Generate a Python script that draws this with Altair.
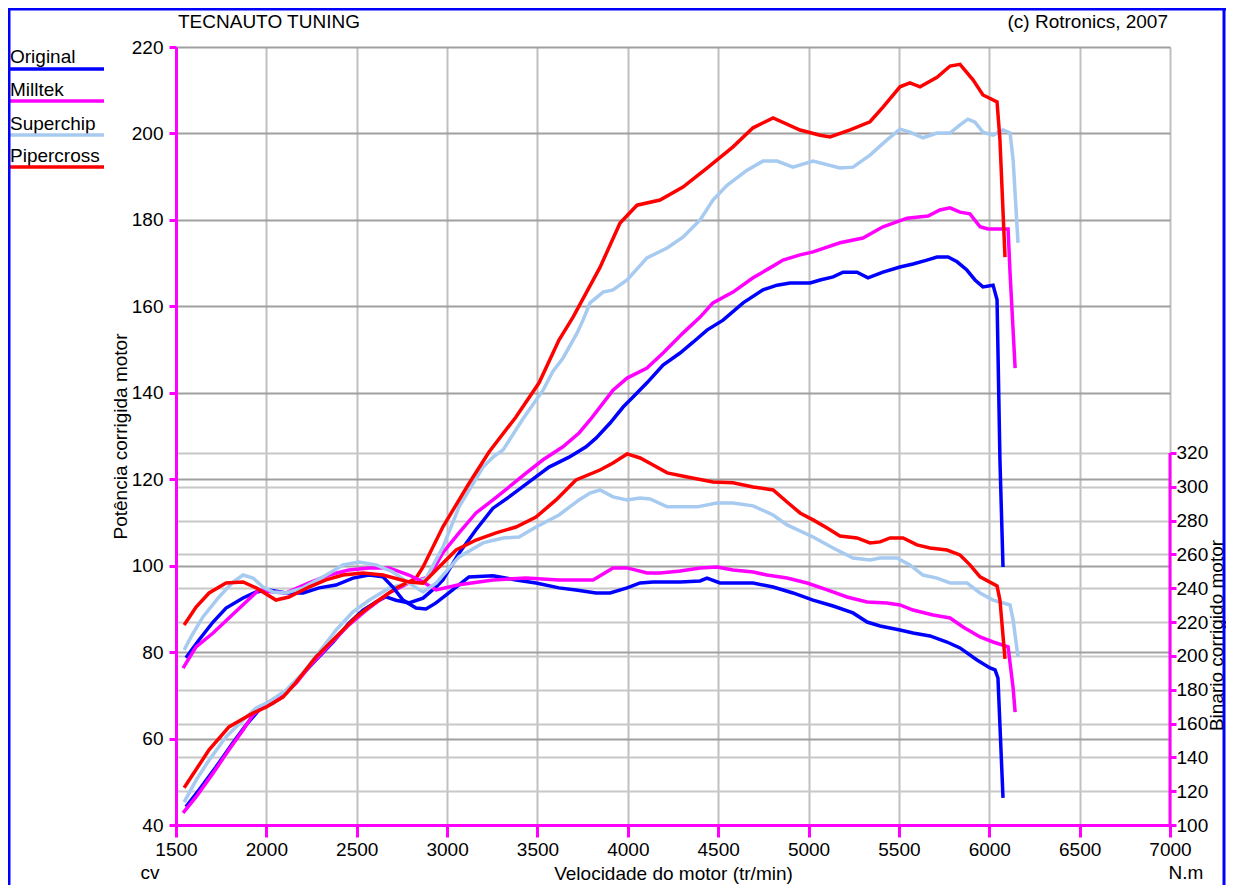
import altair as alt
import pandas as pd

# ---------------- data ----------------
SERIES = ["Original", "Milltek", "Superchip", "Pipercross"]
COLORS = ["#0000ff", "#ff00ff", "#a6caf0", "#ff0000"]

ORIG_P_RPM = [1555, 1627, 1721, 1815, 1887, 1959, 2037, 2109, 2181, 2275, 2369, 2457, 2535, 2607, 2662, 2717, 2789, 2867, 2939, 2977, 3066, 3160, 3254, 3343, 3454, 3564, 3675, 3769, 3824, 3902, 3974, 4029, 4106, 4195, 4289, 4361, 4438, 4527, 4638, 4748, 4826, 4898, 5009, 5064, 5136, 5191, 5268, 5329, 5412, 5506, 5578, 5655, 5711, 5772, 5822, 5876, 5921, 5965, 6021, 6043, 6059, 6076]
ORIG_P_CV = [44.2, 48.1, 53.4, 59.0, 63.1, 66.6, 68.2, 70.5, 74.0, 78.2, 82.3, 86.7, 89.7, 91.6, 92.8, 92.0, 91.4, 92.5, 95.1, 96.7, 102.9, 108.3, 113.3, 115.9, 119.4, 122.8, 125.1, 127.5, 129.5, 133.0, 136.7, 139.0, 142.3, 146.4, 149.2, 151.7, 154.5, 156.8, 160.8, 163.8, 164.9, 165.4, 165.4, 166.1, 166.8, 167.9, 167.9, 166.6, 167.9, 169.1, 169.8, 170.7, 171.4, 171.4, 170.3, 168.4, 166.1, 164.5, 164.9, 161.5, 124.5, 99.7]
ORIG_T_RPM = [1555, 1627, 1705, 1777, 1871, 1943, 2015, 2109, 2203, 2292, 2385, 2479, 2568, 2645, 2700, 2756, 2828, 2883, 2939, 3050, 3121, 3254, 3381, 3492, 3619, 3713, 3824, 3902, 3996, 4068, 4140, 4290, 4400, 4438, 4510, 4693, 4804, 4914, 5025, 5136, 5246, 5324, 5396, 5506, 5578, 5672, 5766, 5838, 5932, 6004, 6032, 6048, 6076]
ORIG_T_NM = [198.8, 209.4, 220.0, 228.3, 234.2, 237.8, 239.0, 237.2, 237.2, 240.2, 241.9, 246.0, 247.8, 246.7, 240.7, 233.0, 228.3, 227.7, 231.3, 240.7, 246.7, 247.3, 244.9, 243.1, 240.2, 239.0, 237.2, 237.2, 240.2, 243.1, 243.7, 243.7, 244.3, 246.0, 243.1, 243.1, 240.7, 237.2, 233.0, 229.5, 225.4, 220.0, 217.7, 215.3, 213.5, 211.8, 208.2, 204.7, 197.6, 192.9, 191.7, 186.9, 116.0]

MILL_P_RPM = [1539, 1611, 1705, 1793, 1871, 1926, 2015, 2092, 2164, 2236, 2347, 2457, 2568, 2679, 2789, 2900, 2977, 3066, 3160, 3254, 3343, 3437, 3531, 3641, 3730, 3791, 3863, 3918, 3996, 4106, 4195, 4305, 4400, 4471, 4582, 4693, 4787, 4859, 4953, 5025, 5174, 5301, 5412, 5545, 5661, 5727, 5783, 5838, 5893, 5949, 5993, 6104, 6115, 6143]
MILL_P_CV = [42.8, 46.5, 52.0, 57.4, 62.0, 65.5, 68.5, 70.0, 72.8, 76.6, 81.6, 86.3, 90.2, 93.7, 96.0, 97.4, 103.0, 107.6, 112.2, 115.2, 118.2, 121.4, 124.5, 127.5, 130.7, 133.7, 137.6, 140.6, 143.4, 145.7, 149.2, 153.8, 157.5, 160.8, 163.3, 166.6, 168.9, 170.7, 171.9, 172.6, 174.7, 175.8, 178.4, 180.4, 180.9, 182.3, 182.8, 181.8, 181.4, 178.4, 177.9, 177.9, 167.7, 145.7]
MILL_T_RPM = [1539, 1611, 1705, 1793, 1887, 1959, 2037, 2109, 2236, 2347, 2457, 2568, 2679, 2789, 2867, 2939, 3066, 3254, 3437, 3619, 3730, 3808, 3918, 3996, 4107, 4179, 4290, 4400, 4493, 4582, 4693, 4770, 4881, 4992, 5103, 5213, 5324, 5434, 5506, 5578, 5689, 5783, 5855, 5949, 6021, 6104, 6132, 6143]
MILL_T_NM = [192.8, 205.3, 213.5, 222.4, 231.9, 239.0, 237.8, 237.2, 243.1, 247.8, 250.8, 252.0, 252.0, 247.8, 243.7, 239.0, 242.0, 244.9, 246.0, 244.9, 244.9, 244.9, 252.0, 252.0, 249.0, 249.0, 250.2, 252.0, 252.6, 250.8, 249.6, 247.8, 246.0, 243.1, 239.0, 234.8, 231.9, 231.3, 230.1, 227.1, 224.2, 222.4, 217.1, 211.2, 208.2, 205.3, 181.0, 166.8]

SUPER_P_RPM = [1545, 1611, 1683, 1777, 1871, 1943, 2015, 2109, 2203, 2292, 2385, 2479, 2568, 2679, 2789, 2883, 2977, 3066, 3199, 3254, 3310, 3420, 3531, 3586, 3641, 3719, 3752, 3791, 3863, 3918, 3996, 4106, 4217, 4305, 4400, 4471, 4549, 4660, 4748, 4826, 4914, 5025, 5174, 5246, 5340, 5434, 5506, 5561, 5633, 5711, 5783, 5838, 5882, 5921, 5965, 6021, 6076, 6115, 6132, 6159]
SUPER_P_CV = [45.3, 50.4, 55.0, 60.4, 64.3, 67.1, 68.5, 71.2, 75.2, 80.0, 85.1, 89.3, 92.0, 94.8, 96.0, 97.0, 104.3, 113.6, 122.8, 125.1, 126.8, 134.0, 140.6, 145.0, 148.0, 153.8, 156.8, 160.8, 163.3, 163.8, 166.1, 171.2, 173.5, 176.0, 180.0, 184.6, 188.0, 191.5, 193.6, 193.6, 192.2, 193.6, 192.0, 192.2, 195.0, 198.5, 201.0, 200.3, 199.0, 200.1, 200.1, 202.0, 203.3, 202.6, 200.3, 199.6, 200.8, 200.1, 193.9, 174.7]
SUPER_T_RPM = [1545, 1583, 1649, 1738, 1815, 1871, 1926, 1981, 2037, 2109, 2203, 2313, 2424, 2513, 2607, 2700, 2789, 2867, 2939, 3066, 3199, 3310, 3398, 3492, 3619, 3730, 3791, 3846, 3918, 3996, 4068, 4123, 4218, 4384, 4493, 4582, 4693, 4804, 4881, 5025, 5136, 5246, 5340, 5396, 5489, 5561, 5633, 5711, 5783, 5876, 5949, 6021, 6115, 6132, 6159]
SUPER_T_NM = [203.5, 211.2, 223.0, 234.8, 243.7, 247.8, 246.0, 240.7, 237.8, 237.2, 240.2, 246.7, 253.8, 255.5, 253.8, 249.6, 243.0, 237.8, 243.0, 258.5, 266.8, 269.7, 270.3, 276.2, 283.3, 292.2, 296.3, 298.1, 294.0, 292.2, 293.4, 292.8, 288.1, 288.1, 290.4, 290.4, 288.7, 283.3, 277.4, 270.3, 263.8, 257.9, 256.7, 257.9, 257.9, 253.8, 247.8, 246.0, 243.1, 243.1, 237.2, 233.0, 230.1, 221.2, 199.4]

PIPE_P_RPM = [1545, 1683, 1793, 1926, 2000, 2092, 2164, 2275, 2385, 2496, 2607, 2717, 2828, 2867, 2977, 3121, 3232, 3381, 3509, 3619, 3697, 3846, 3957, 4051, 4178, 4305, 4438, 4582, 4693, 4804, 4953, 5064, 5119, 5230, 5340, 5412, 5506, 5561, 5617, 5711, 5783, 5838, 5910, 5965, 6043, 6059, 6087]
PIPE_P_CV = [48.6, 57.4, 62.7, 65.9, 67.3, 69.6, 73.0, 78.9, 83.5, 88.1, 91.6, 94.8, 97.1, 99.7, 109.0, 119.0, 126.3, 134.4, 142.3, 152.2, 157.5, 169.0, 179.3, 183.4, 184.6, 187.6, 192.0, 196.9, 201.3, 203.6, 200.8, 199.6, 199.2, 200.8, 202.7, 206.1, 210.8, 211.7, 210.8, 213.0, 215.6, 216.0, 212.4, 208.9, 207.3, 198.5, 171.4]
PIPE_T_RPM = [1545, 1611, 1683, 1777, 1871, 1943, 2053, 2125, 2236, 2330, 2424, 2535, 2645, 2789, 2867, 2956, 3050, 3160, 3271, 3381, 3492, 3603, 3713, 3846, 3918, 3996, 4068, 4140, 4218, 4329, 4471, 4582, 4693, 4804, 4881, 4953, 5025, 5103, 5174, 5268, 5340, 5396, 5451, 5523, 5600, 5672, 5766, 5838, 5893, 5949, 6043, 6059, 6087]
PIPE_T_NM = [218.3, 228.9, 237.2, 243.1, 243.7, 240.2, 233.0, 234.8, 240.7, 244.9, 247.8, 249.0, 247.8, 243.7, 243.0, 252.6, 262.6, 268.5, 272.7, 276.2, 282.1, 292.2, 304.0, 309.9, 314.0, 319.4, 317.0, 312.9, 308.2, 305.8, 302.8, 302.3, 299.9, 298.1, 291.0, 284.5, 280.4, 275.6, 270.9, 269.7, 266.8, 267.4, 269.7, 269.7, 265.6, 263.8, 262.6, 259.7, 253.8, 246.7, 241.3, 233.1, 198.2]

X_TICKS = list(range(1500, 7001, 500))
P_TICKS = list(range(40, 221, 20))
T_TICKS = list(range(100, 321, 20))

TITLE_LEFT = "TECNAUTO TUNING"
TITLE_RIGHT = "(c) Rotronics, 2007"
X_TITLE = "Velocidade do motor (tr/min)"
P_TITLE = "Potência corrigida  motor"
T_TITLE = "Binario corrigido motor"
P_UNIT = "cv"
T_UNIT = "N.m"

# ---------------- layout ----------------
W, H = 994, 778
FONT = "Liberation Sans"
FS = 19
MAG = "#ff00ff"
PAD_R = 56
LW = 3.5

XS = alt.Scale(domain=[1500, 7000], nice=False, zero=False)
YP = alt.Scale(domain=[40, 220], nice=False, zero=False)
YT = alt.Scale(domain=[100, 560], nice=False, zero=False)

common = dict(labelFont=FONT, labelFontSize=FS, labelColor="black", labelFlush=False,
              titleFont=FONT, titleFontSize=FS, titleFontWeight="normal", titleColor="black")

x_axis = alt.Axis(values=X_TICKS, title=X_TITLE, format="d",
                  domainColor=MAG, domainWidth=3, tickColor=MAG, tickWidth=3, tickSize=12,
                  labelPadding=3, grid=True, gridColor="#c0c0c0", gridWidth=2,
                  titleX=W / 2, titleY=48, titleBaseline="middle", titleAlign="center", **common)
p_axis = alt.Axis(values=P_TICKS, title=P_TITLE, orient="left", format="d",
                  domainColor=MAG, domainWidth=3, tickColor=MAG, tickWidth=3, tickSize=7,
                  labelPadding=6, grid=True, gridColor="#a0a0a0", gridWidth=2,
                  titleAngle=270, titleX=-56, titleY=H / 2, titleBaseline="middle", titleAlign="center", **common)
t_axis = alt.Axis(values=T_TICKS, title=T_TITLE, orient="right", format="d",
                  domain=False, tickColor=MAG, tickWidth=3, tickSize=6,
                  labelPadding=0, grid=True, gridColor="#c8c8c8", gridWidth=2,
                  titleAngle=270, titleX=46, titleY=588, titleBaseline="middle", titleAlign="center", **common)

power_sets = [(ORIG_P_RPM, ORIG_P_CV), (MILL_P_RPM, MILL_P_CV), (SUPER_P_RPM, SUPER_P_CV), (PIPE_P_RPM, PIPE_P_CV)]
torque_sets = [(ORIG_T_RPM, ORIG_T_NM), (MILL_T_RPM, MILL_T_NM), (SUPER_T_RPM, SUPER_T_NM), (PIPE_T_RPM, PIPE_T_NM)]

power_layers = []
for (r, v), c in zip(power_sets, COLORS):
    d = pd.DataFrame({"rpm": r, "v": v})
    power_layers.append(alt.Chart(d).mark_line(color=c, strokeWidth=LW).encode(
        x=alt.X("rpm:Q", scale=XS, axis=x_axis),
        y=alt.Y("v:Q", scale=YP, axis=p_axis)))

torque_layers = []
for (r, v), c in zip(torque_sets, COLORS):
    d = pd.DataFrame({"rpm": r, "v": v})
    torque_layers.append(alt.Chart(d).mark_line(color=c, strokeWidth=LW).encode(
        x=alt.X("rpm:Q", scale=XS, axis=x_axis),
        y=alt.Y("v:Q", scale=YT, axis=t_axis)))

# right axis line only along its labelled part
rdom = pd.DataFrame({"rpm": [X_TICKS[-1]], "v": [T_TICKS[0]], "v2": [T_TICKS[-1]]})
torque_layers.append(alt.Chart(rdom).mark_rule(color=MAG, strokeWidth=3).encode(
    x=alt.X("rpm:Q", scale=XS, axis=x_axis),
    y=alt.Y("v:Q", scale=YT, axis=t_axis), y2="v2:Q"))

power = alt.layer(*power_layers)
torque = alt.layer(*torque_layers)


def text_layer(txt, x, y, align="left", baseline="alphabetic", color="black"):
    return alt.Chart(pd.DataFrame({"t": [txt]})).mark_text(
        align=align, baseline=baseline, font=FONT, fontSize=FS, color=color).encode(
        x=alt.value(x), y=alt.value(y), text="t:N")


def rule_layer(color, width, **enc):
    return alt.Chart(pd.DataFrame({"a": [0]})).mark_rule(color=color, strokeWidth=width).encode(
        **{k: alt.value(v) for k, v in enc.items()})


deco = [
    text_layer(TITLE_LEFT, 2, -25, baseline="middle"),
    text_layer(TITLE_RIGHT, 992, -25, align="right", baseline="middle"),
    text_layer(P_UNIT, -26, 826, align="center", baseline="middle"),
    text_layer(T_UNIT, 1010, 826, align="center", baseline="middle"),
]
leg_text_y = [16, 49, 83, 115]
leg_rule_y = [22, 54, 88, 120]
for name, c, ty, ry in zip(SERIES, COLORS, leg_text_y, leg_rule_y):
    deco.append(text_layer(name, -166, ty))
    deco.append(rule_layer(c, 3.5, x=-166, x2=-72, y=ry))

# blue frame
deco.append(rule_layer("#0000ff", 3, x=-167, y=-39, y2=H + 60))
deco.append(rule_layer("#0000ff", 3, y=-38, x=-168, x2=W + PAD_R))
deco.append(rule_layer("#0000ff", 3, x=W + PAD_R - 2, y=-39, y2=H + 60))

chart = alt.layer(power, torque, *deco).resolve_scale(y="independent").properties(
    width=W, height=H,
    autosize=alt.AutoSizeParams(type="none"),
    padding={"left": 168, "top": 39, "right": PAD_R, "bottom": 60},
    background="white",
).configure_view(stroke=None)

chart.save("out.html", embed_options={"renderer": "svg", "actions": False})
